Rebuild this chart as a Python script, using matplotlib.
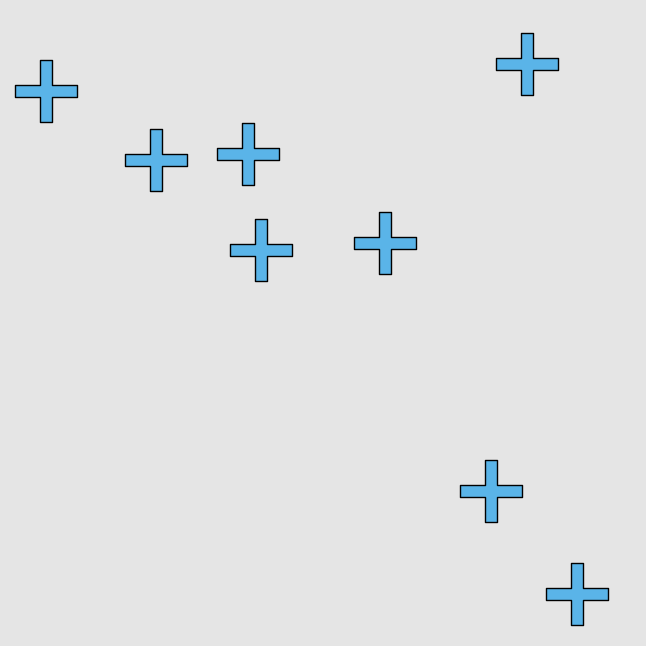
import numpy as np
import matplotlib
matplotlib.use('Agg')
import matplotlib.pyplot as plt
from matplotlib.path import Path

# point positions (origin top-left)
x_vals = [45.5, 155.7, 248.0, 261.0, 385.2, 527.0, 490.8, 576.5]
y_vals = [91.3, 160.3, 153.8, 249.7, 242.8, 63.8, 491.2, 593.8]

bg_color = '#E5E5E5'
fill_color = '#5AB4E8'

# thin filled plus, arm half-width 0.1 of the full size
a = 0.1
b = 0.5
plus_verts = [(-a, b), (a, b), (a, a), (b, a), (b, -a), (a, -a), (a, -b),
              (-a, -b), (-a, -a), (-b, -a), (-b, a), (-a, a), (-a, b)]
plus_marker = Path(plus_verts, closed=True)

fig = plt.figure(figsize=(6.46, 6.46), dpi=100)
fig.patch.set_facecolor(bg_color)
ax = fig.add_axes([0, 0, 1, 1])
ax.set_facecolor(bg_color)
ax.scatter(x_vals, y_vals, marker=plus_marker, s=44.6**2,
           facecolor=fill_color, edgecolor='black', linewidths=1.0)
ax.set_xlim(0, 646)
ax.set_ylim(646, 0)
ax.axis('off')
fig.savefig('out.png', dpi=100, facecolor=bg_color)
